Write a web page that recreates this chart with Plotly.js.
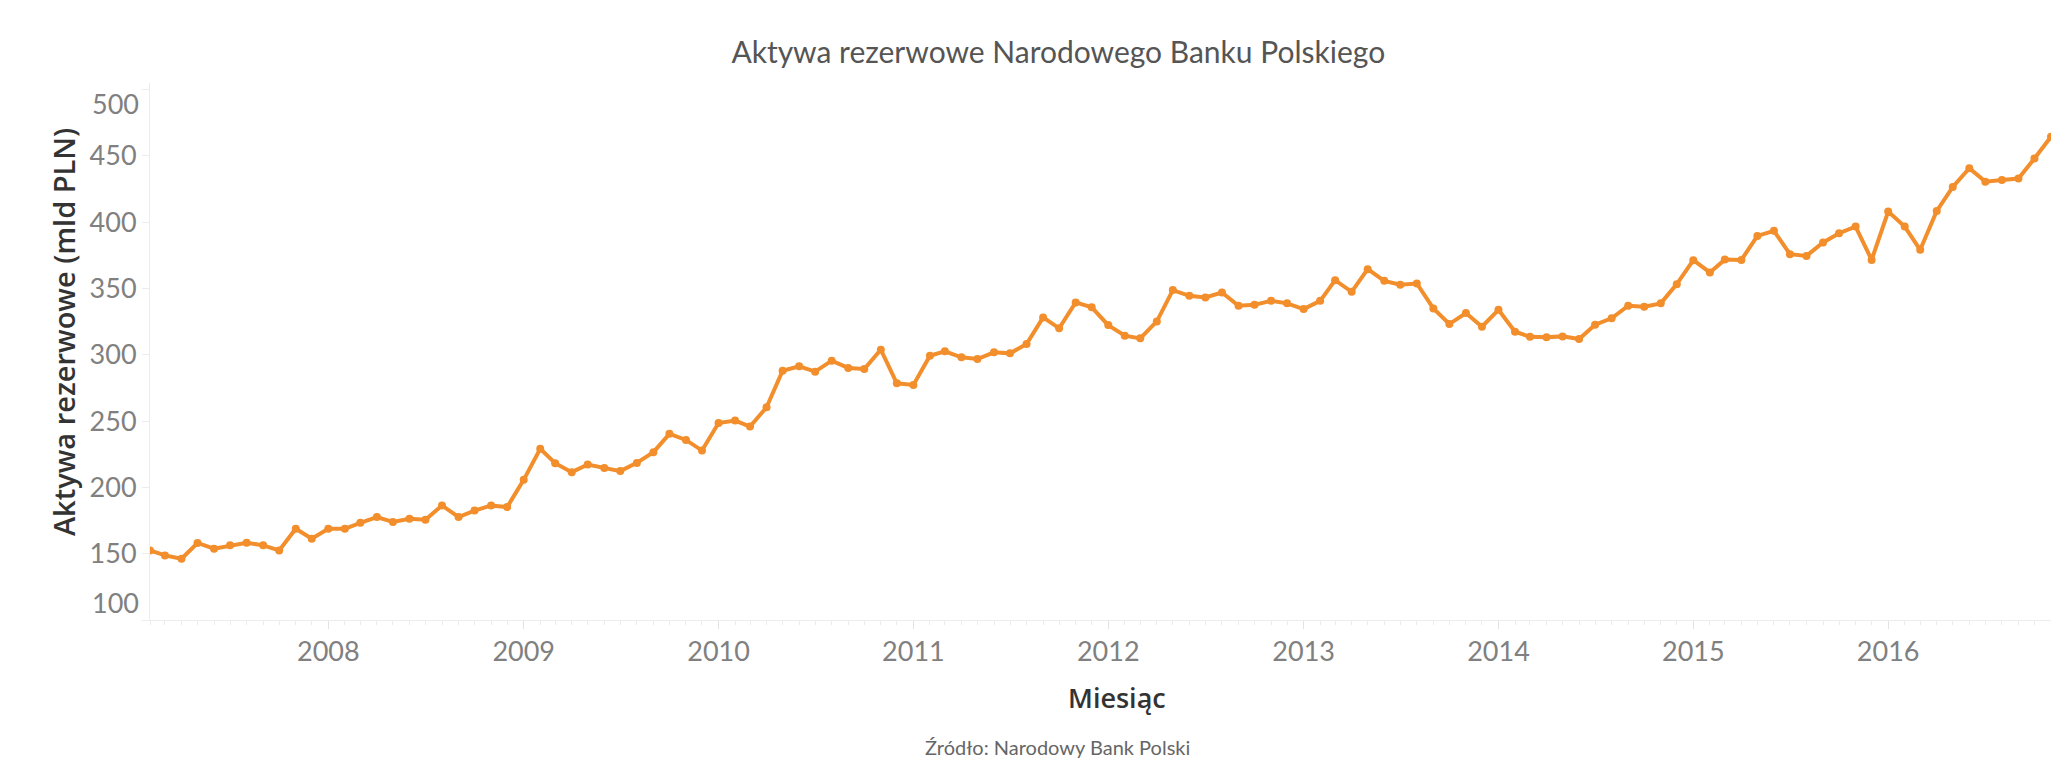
<!DOCTYPE html>
<html>
<head>
<meta charset="utf-8">
<script src="https://cdn.plot.ly/plotly-3.0.1.min.js"></script>
<style>
html, body { margin: 0; padding: 0; background: #ffffff; }
#chart { width: 2051px; height: 758px; }
</style>
</head>
<body>
<div id="chart"></div>
<script>
// Months: Feb 2007 .. Nov 2016
const startYear = 2007;
const startMonth = 2; // February
const months = [];
(function () {
  let y = startYear, m = startMonth;
  for (let i = 0; i < 118; i++) {
    months.push(y + '-' + String(m).padStart(2, '0') + '-01');
    m++; if (m > 12) { m = 1; y++; }
  }
})();

// Reserve assets, bn PLN
const values2007 = [152.5, 148.7, 146.2, 158.1, 153.8, 156.3, 158.3, 156.3, 152.5, 168.8, 161.3];
const values2008 = [168.8, 168.8, 173.3, 177.6, 173.9, 176.4, 175.6, 186.4, 177.6, 182.5, 186.4, 185.2];
const values2009 = [205.7, 229.1, 218.3, 211.5, 217.3, 214.6, 212.3, 218.5, 226.6, 240.4, 235.8, 227.8];
const values2010 = [248.6, 250.4, 245.9, 260.5, 288.0, 291.3, 287.3, 295.6, 290.1, 289.3, 303.9, 278.5];
const values2011 = [277.3, 299.3, 302.6, 298.1, 296.8, 301.9, 301.1, 308.1, 328.2, 320.0, 339.5, 335.8];
const values2012 = [322.4, 314.4, 312.4, 325.2, 348.8, 344.5, 343.3, 347.0, 337.0, 337.7, 340.7, 338.8];
const values2013 = [334.5, 340.7, 356.3, 347.5, 364.6, 355.8, 352.8, 353.8, 335.0, 323.2, 331.5, 321.2];
const values2014 = [334.0, 317.4, 313.6, 313.2, 313.9, 311.9, 322.7, 327.5, 337.0, 336.2, 338.8, 353.3];
const values2015 = [371.4, 362.1, 371.8, 371.6, 389.7, 393.5, 375.9, 374.6, 384.7, 391.7, 396.7, 371.6];
const values2016 = [408.0, 396.7, 379.2, 408.5, 426.6, 440.7, 430.6, 431.9, 432.9, 448.0, 464.5];

const reserves = [].concat(values2007, values2008, values2009, values2010, values2011,
  values2012, values2013, values2014, values2015, values2016);

const yTicks = [100, 150, 200, 250, 300, 350, 400, 450, 500];
const yEdgeTicks = [100, 500]; // labels nudged inward at the axis ends

const titleText = 'Aktywa rezerwowe Narodowego Banku Polskiego';
const xTitle = 'Miesiąc';
const yTitle = 'Aktywa rezerwowe (mld PLN)';
const sourceText = 'Źródło: Narodowy Bank Polski';

const FONT = 'Lato, "Open Sans", sans-serif';
const TITLE_FONT = '"Open Sans", Lato, sans-serif';
const TICK_FONT = { family: FONT, size: 27, color: '#808080' };

const trace = {
  type: 'scatter',
  mode: 'lines+markers',
  x: months,
  y: reserves,
  line: { color: '#F28E2B', width: 4 },
  marker: { color: '#F28E2B', size: 8 },
  cliponaxis: true,
  hoverinfo: 'x+y'
};

const annotations = [
  {
    text: yTitle, textangle: -90,
    xref: 'paper', yref: 'paper',
    x: -0.0458, xanchor: 'center',
    y: 0.536, yanchor: 'middle',
    showarrow: false,
    font: { family: TITLE_FONT, size: 29, color: '#333333', weight: 600 }
  },
  {
    text: xTitle,
    xref: 'paper', yref: 'paper',
    x: 0.5087, xanchor: 'center',
    y: -0.1434, yanchor: 'middle',
    showarrow: false,
    font: { family: TITLE_FONT, size: 27, color: '#333333', weight: 600 }
  },
  {
    text: sourceText,
    xref: 'paper', yref: 'paper',
    x: 0.4775, xanchor: 'center',
    y: -0.2095, yanchor: 'top',
    showarrow: false,
    font: { family: FONT, size: 20, color: '#666666' }
  }
];
yEdgeTicks.forEach(function (v) {
  annotations.push({
    text: String(v),
    xref: 'paper', yref: 'y',
    x: 0, xanchor: 'right', xshift: -9,
    y: v, yanchor: 'middle', yshift: v === 100 ? 18 : -14,
    showarrow: false,
    font: TICK_FONT
  });
});

const layout = {
  width: 2051,
  height: 758,
  paper_bgcolor: '#ffffff',
  plot_bgcolor: '#ffffff',
  margin: { l: 150, r: 0, t: 83, b: 138 },
  showlegend: false,
  font: { family: FONT, color: '#777777' },
  title: {
    text: titleText,
    font: { family: FONT, size: 30, color: '#555555' },
    x: 0.516, xanchor: 'center', xref: 'container',
    y: 0.931, yanchor: 'middle', yref: 'container'
  },
  xaxis: {
    type: 'date',
    range: ['2007-02-01', '2016-11-01'],
    tickmode: 'linear',
    tick0: '2008-01-01',
    dtick: 'M12',
    tickformat: '%Y',
    ticks: 'outside',
    ticklen: 8,
    tickcolor: '#e3e3e3',
    tickfont: TICK_FONT,
    showgrid: false,
    zeroline: false,
    showline: true,
    linecolor: '#ececec',
    linewidth: 1,
    minor: { dtick: 'M1', ticks: 'outside', ticklen: 4, tickcolor: '#ececec', showgrid: false }
  },
  yaxis: {
    range: [100, 505],
    tickmode: 'array',
    tickvals: yTicks,
    ticktext: yTicks.map(function (v) { return yEdgeTicks.indexOf(v) >= 0 ? '' : String(v); }),
    ticks: 'outside',
    ticklen: 7,
    tickcolor: '#ececec',
    tickfont: TICK_FONT,
    showgrid: false,
    zeroline: false,
    showline: true,
    linecolor: '#ececec',
    linewidth: 1
  },
  annotations: annotations
};

Plotly.newPlot('chart', [trace], layout, { displayModeBar: false, responsive: false, staticPlot: true });
</script>
</body>
</html>
